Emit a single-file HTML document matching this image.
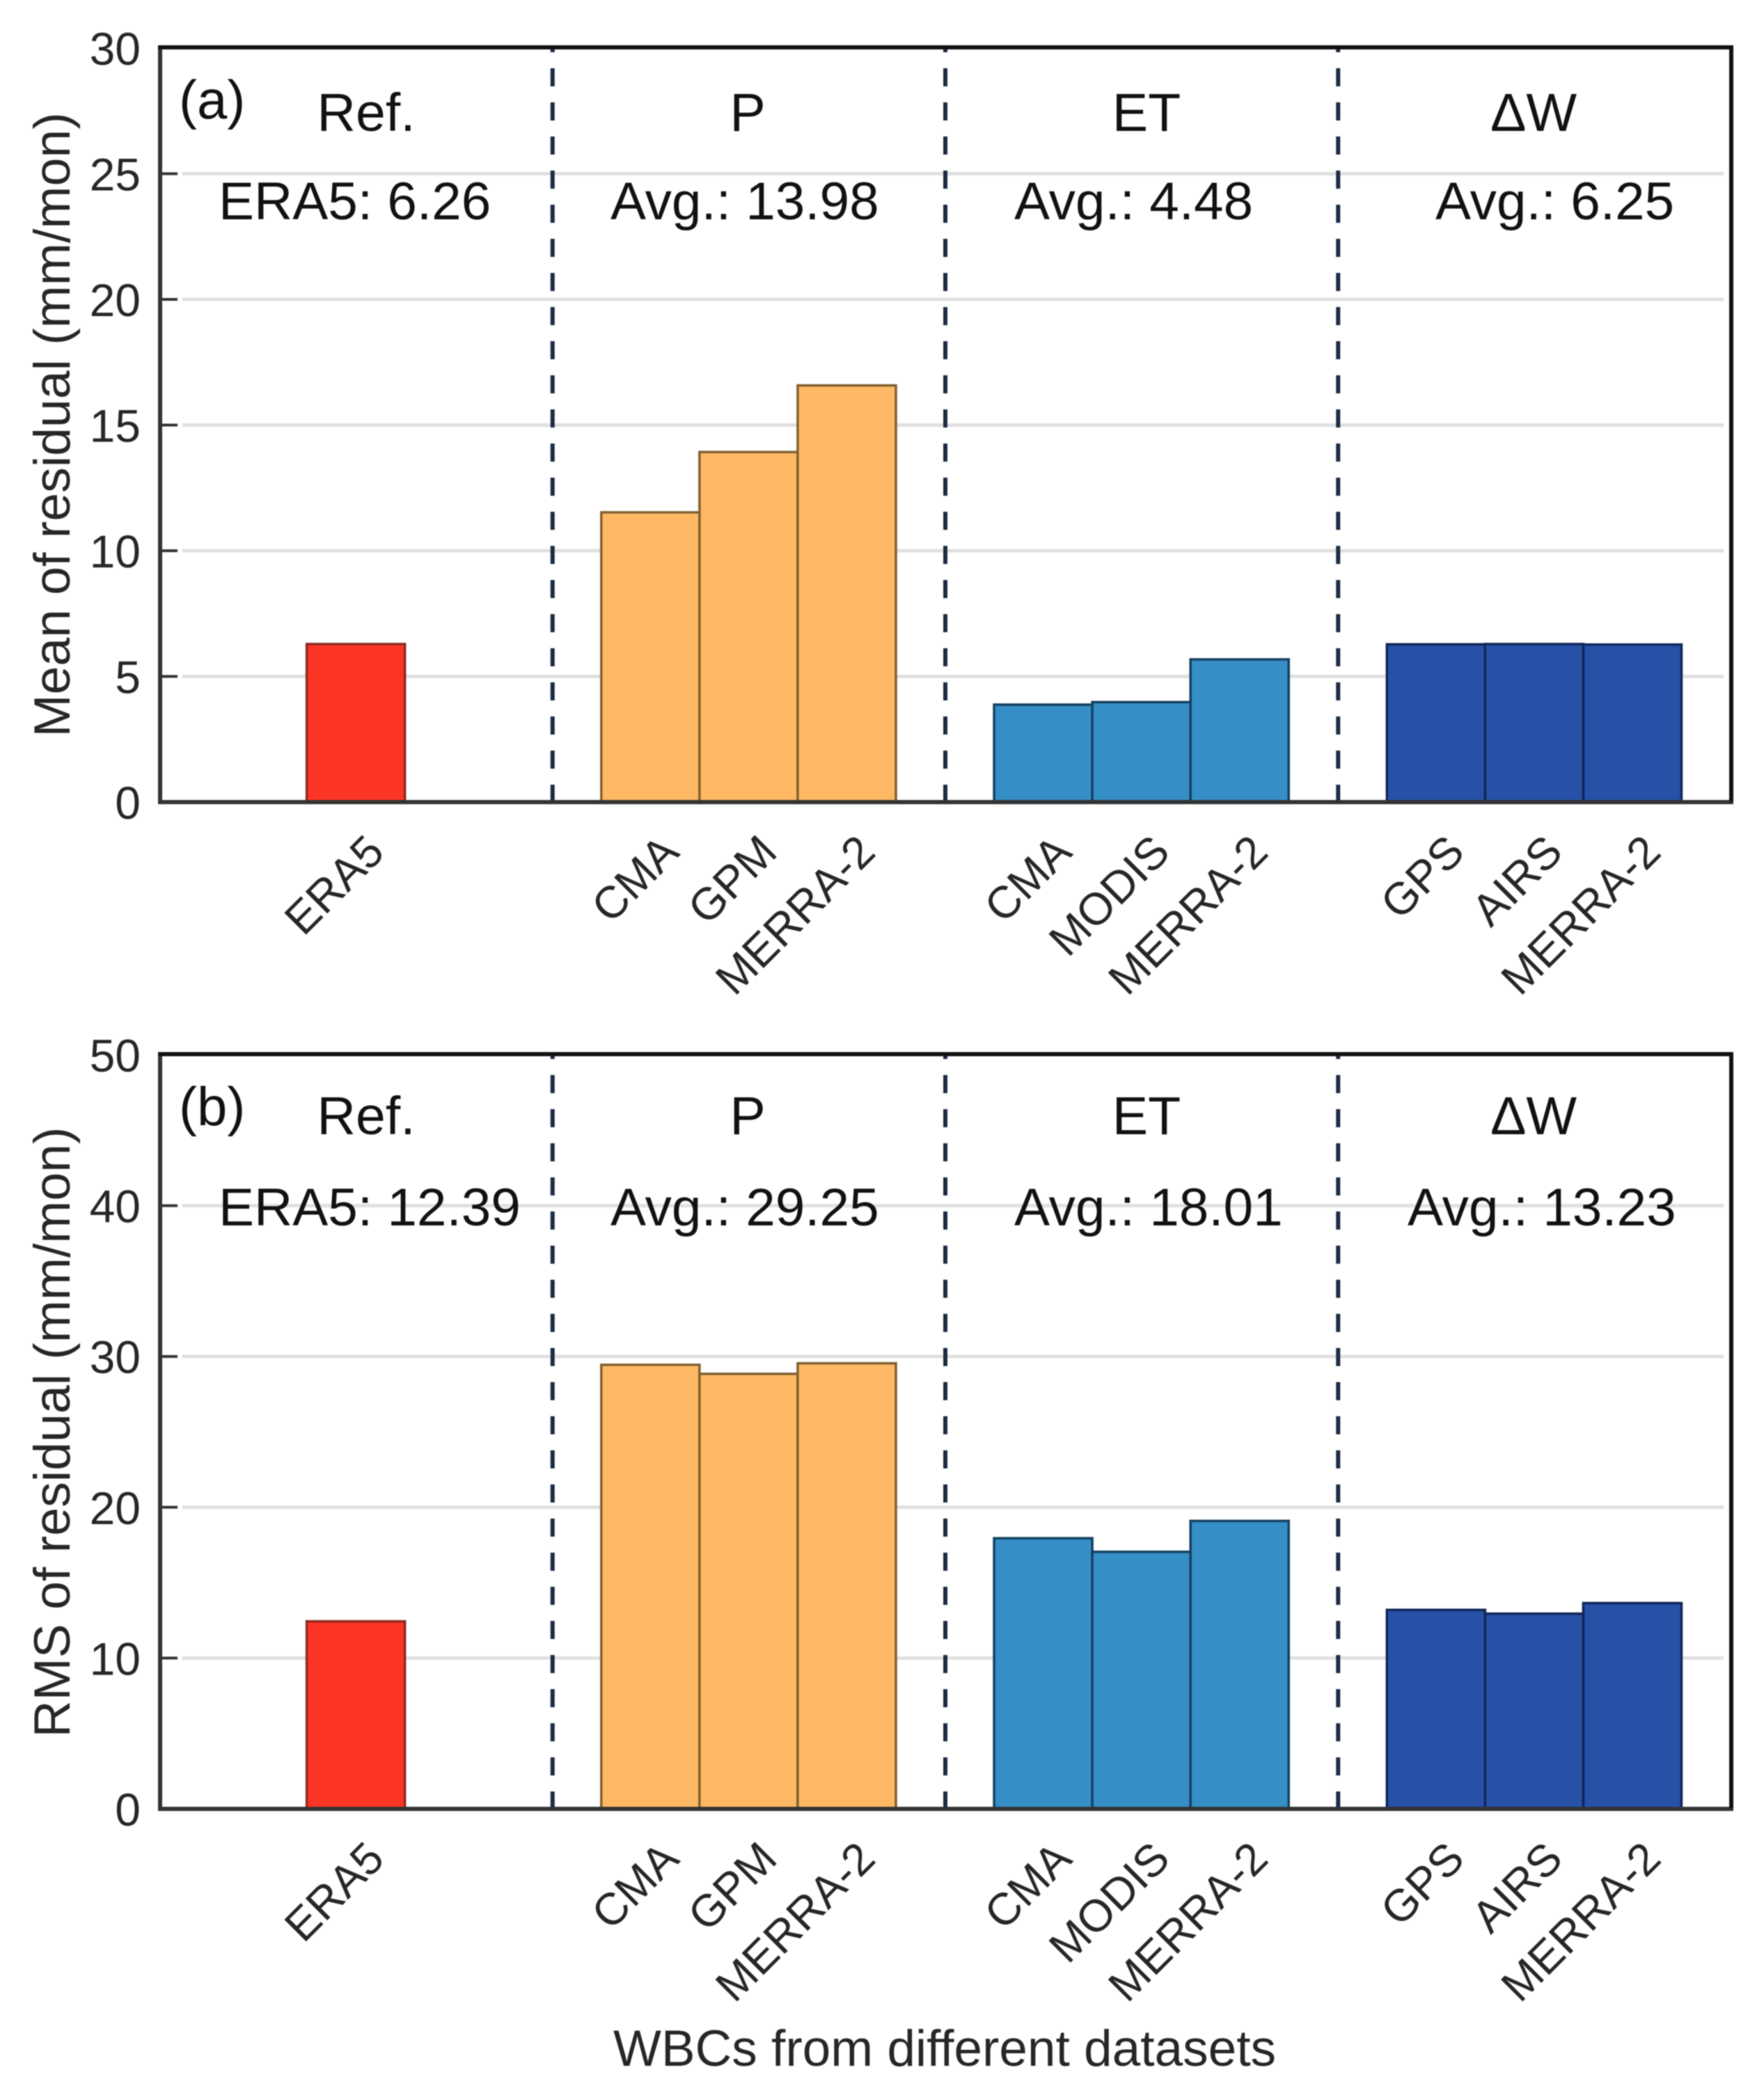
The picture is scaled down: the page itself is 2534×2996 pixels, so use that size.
<!DOCTYPE html>
<html lang="en">
<head>
<meta charset="utf-8">
<title>Mean and RMS of residual</title>
<style>
html,body{margin:0;padding:0;background:#fff;width:2534px;height:2996px;overflow:hidden}
svg{display:block;filter:blur(0.9px)}
text{font-family:"Liberation Sans",Arial,sans-serif}
</style>
</head>
<body>
<svg id="chart" xmlns="http://www.w3.org/2000/svg" width="2534" height="2996" viewBox="0 0 2534 2996"></svg>
<script>
// ---- data ----
const categories = ['ERA5','CMA','GPM','MERRA-2','CMA','MODIS','MERRA-2','GPS','AIRS','MERRA-2'];
const categorySlots = [2,5,6,7,9,10,11,13,14,15];
const categoryGroups = ['ref','p','p','p','et','et','et','dw','dw','dw'];
const meanValues = [6.26,11.5,13.9,16.55,3.85,3.95,5.65,6.25,6.26,6.24];
const rmsValues = [12.39,29.4,28.8,29.5,17.9,17.0,19.05,13.15,12.9,13.6];
const meanTicks = [0,5,10,15,20,25,30];
const rmsTicks = [0,10,20,30,40,50];
const separatorSlots = [4,8,12];
const groupTitles = ['Ref.','P','ET','\u0394W'];
const meanStats = ['ERA5: 6.26','Avg.: 13.98','Avg.: 4.48','Avg.: 6.25'];
const rmsStats = ['ERA5: 12.39','Avg.: 29.25','Avg.: 18.01','Avg.: 13.23'];

// ---- styling and layout ----
const NS = 'http://www.w3.org/2000/svg';
const svg = document.getElementById('chart');
const fills = {ref:'#fd3524',p:'#ffb965',et:'#368ec7',dw:'#2651a6'};
const edges = {ref:'#8c2a20',p:'#80602f',et:'#14405f',dw:'#112558'};
const axisLeft = 230, axisRight = 2487, slotCount = 16;
const titleX = [526,1074,1647,2203];
const statXa = [314,877,1457,2062];
const statXb = [314,877,1457,2022];

function x(slot){ return axisLeft + slot * (axisRight - axisLeft) / slotCount; }

function make(tag, parent){
  const el = document.createElementNS(NS, tag);
  parent.appendChild(el);
  return el;
}
function setAll(el, pairs){
  for (const k in pairs) el.setAttribute(k, pairs[k]);
}

function drawPanel(cfg){
  const g = make('g', svg);
  
  
  const y = v => cfg.bottom - (v / cfg.max) * (cfg.bottom - cfg.top);

  // gridlines and y ticks
  cfg.ticks.forEach(t => {
    if (t !== 0 && t !== cfg.max) {
      const grid = make('line', g);
      setAll(grid, {x1:axisLeft+32,x2:axisRight-11,y1:y(t)+1,y2:y(t)+1,stroke:'#e0e0e0','stroke-width':5});
      
      
      const tick = make('line', g);
      setAll(tick, {x1:axisLeft,x2:axisLeft+25,y1:y(t)+1,y2:y(t)+1,stroke:'#333','stroke-width':4});
      
      
    }
    const label = make('text', g);
    setAll(label, {x:202,y:y(t)+25,'text-anchor':'end','font-size':66,fill:'#262626'});
    label.textContent = t;
    
    
  });

  // bars
  cfg.values.forEach((v,i) => {
    const bar = make('rect', g);
    const left = x(categorySlots[i] - 0.5) - 1, right = x(categorySlots[i] + 0.5) - 1;
    setAll(bar, {x:left,y:y(v),width:right-left,height:cfg.bottom-y(v),
      fill:fills[categoryGroups[i]],stroke:edges[categoryGroups[i]],'stroke-width':3.5});
    
    
  });

  // dashed separators
  separatorSlots.forEach(s => {
    const sep = make('line', g);
    setAll(sep, {x1:x(s)-0.5,x2:x(s)-0.5,y1:cfg.top,y2:cfg.bottom,stroke:'#1b2b42','stroke-width':6,
      'stroke-dasharray':'26 23','stroke-dashoffset':19});
    
    
  });

  // axes box
  const leftAxis = make('line', g);
  setAll(leftAxis, {x1:axisLeft,x2:axisLeft,y1:cfg.top,y2:cfg.bottom,stroke:'#333','stroke-width':6});
  
  
  const bottomAxis = make('line', g);
  setAll(bottomAxis, {x1:axisLeft-3,x2:axisRight+3,y1:cfg.bottom+1,y2:cfg.bottom+1,stroke:'#333','stroke-width':6});
  
  
  const topAxis = make('line', g);
  setAll(topAxis, {x1:axisLeft-3,x2:axisRight+3,y1:cfg.top,y2:cfg.top,stroke:'#111','stroke-width':6});
  
  
  const rightAxis = make('line', g);
  setAll(rightAxis, {x1:axisRight,x2:axisRight,y1:cfg.top,y2:cfg.bottom,stroke:'#111','stroke-width':6});
  
  

  // x tick labels
  categories.forEach((c,i) => {
    const px = x(categorySlots[i]) + 43, py = cfg.bottom + 76;
    const label = make('text', g);
    setAll(label, {x:px,y:py,'text-anchor':'end','font-size':64.5,fill:'#262626',
      transform:'rotate(-45 ' + px + ' ' + py + ')'});
    label.textContent = c;
    
    
  });

  // panel letter
  const letter = make('text', g);
  setAll(letter, {x:257,y:cfg.top+102,'font-size':78,fill:'#111'});
  letter.textContent = cfg.letter;
  
  

  // group titles and statistics
  groupTitles.forEach((t,i) => {
    const title = make('text', g);
    setAll(title, {x:titleX[i],y:cfg.top+120+cfg.titleDy,'text-anchor':'middle','font-size':77,fill:'#111'});
    title.textContent = t;
    
    
    const stat = make('text', g);
    setAll(stat, {x:cfg.statX[i],y:cfg.top+247+cfg.statDy,'font-size':76.5,fill:'#111'});
    stat.textContent = cfg.stats[i];
    
    
  });

  // y axis title
  const yc = cfg.titleY;
  const yTitle = make('text', g);
  setAll(yTitle, {x:100,y:yc,'text-anchor':'middle','font-size':73.4,fill:'#262626',
    transform:'rotate(-90 100 ' + yc + ')'});
  yTitle.textContent = cfg.yTitle;
  
  
}

drawPanel({id:'panel-a-mean',letter:'(a)',top:68,bottom:1151,max:30,ticks:meanTicks,values:meanValues,
  stats:meanStats,statX:statXa,titleDy:0,statDy:0,yTitle:'Mean of residual (mm/mon)',titleY:610});
drawPanel({id:'panel-b-rms',letter:'(b)',top:1514,bottom:2597,max:50,ticks:rmsTicks,values:rmsValues,
  stats:rmsStats,statX:statXb,titleDy:-5,statDy:-1,yTitle:'RMS of residual (mm/mon)',titleY:2057});

const xTitle = make('text', svg);
setAll(xTitle, {x:1357,y:2967,'text-anchor':'middle','font-size':73,fill:'#262626'});
xTitle.textContent = 'WBCs from different datasets';


</script>
</body>
</html>
